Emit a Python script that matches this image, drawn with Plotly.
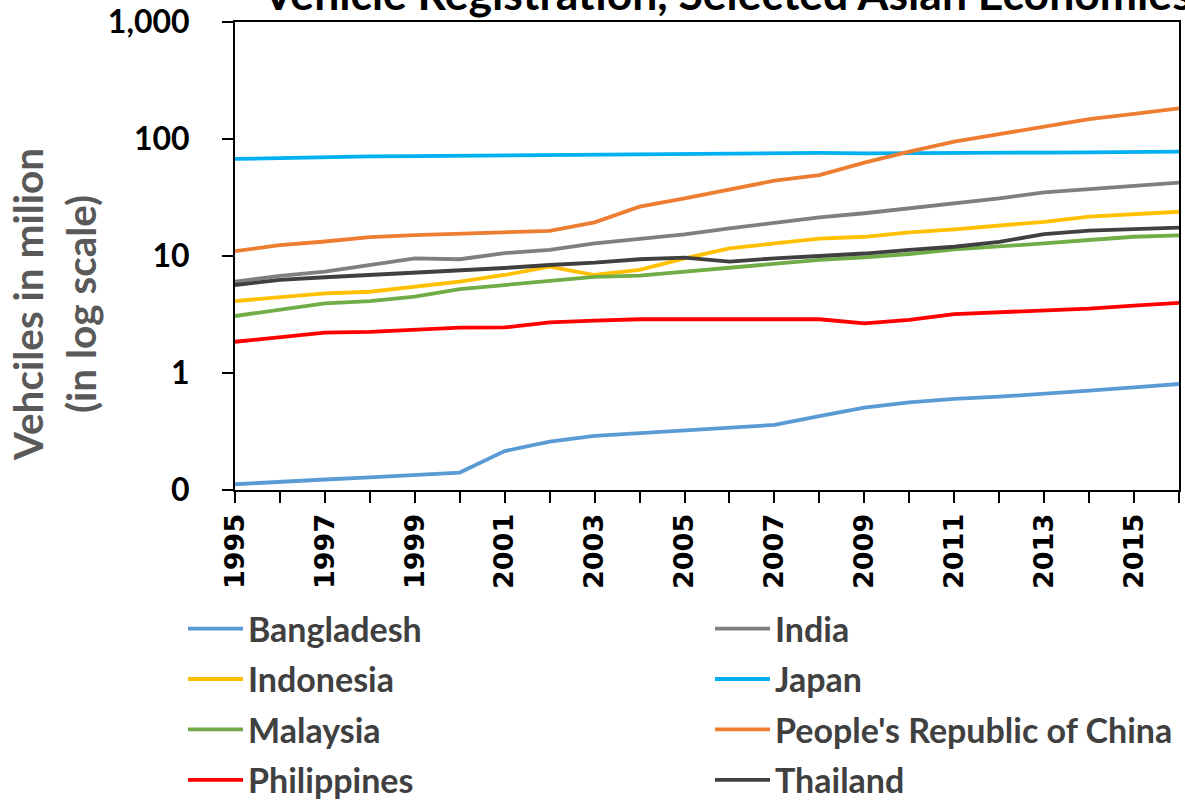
import plotly.graph_objects as go

# Vehicles registered (millions), 1995-2016
years = list(range(1995, 2017))
bangladesh = [0.112, 0.118, 0.123, 0.128, 0.135, 0.141, 0.215, 0.259, 0.290, 0.306, 0.319,
              0.336, 0.360, 0.428, 0.505, 0.562, 0.600, 0.627, 0.662, 0.706, 0.755, 0.805]
india = [6.03, 6.75, 7.34, 8.38, 9.55, 9.38, 10.6, 11.3, 12.8, 14.0, 15.3,
         17.2, 19.3, 21.4, 23.2, 25.6, 28.2, 31.1, 35.0, 37.1, 39.9, 42.3]
indonesia = [4.12, 4.43, 4.80, 4.95, 5.47, 6.03, 6.88, 8.1, 6.88, 7.6, 9.55,
             11.6, 12.8, 14.1, 14.6, 15.9, 16.9, 18.2, 19.6, 21.7, 22.7, 23.9]
japan = [67.5, 69.0, 70.0, 71.0, 71.5, 72.0, 73.0, 73.5, 74.0, 74.5, 75.0,
         75.5, 76.5, 76.0, 75.5, 75.5, 75.5, 76.0, 76.5, 77.0, 77.5, 78.0]
malaysia = [3.07, 3.45, 3.94, 4.12, 4.49, 5.22, 5.65, 6.15, 6.62, 6.79, 7.35,
            8.01, 8.67, 9.26, 9.75, 10.4, 11.4, 12.0, 12.8, 13.7, 14.6, 15.0]
china = [11.0, 12.4, 13.3, 14.5, 15.1, 15.6, 16.0, 16.4, 19.4, 26.4, 31.1,
         36.7, 44.0, 49.2, 62.8, 78.0, 94.8, 110, 128, 148, 164, 183]
philippines = [1.85, 2.04, 2.21, 2.25, 2.33, 2.44, 2.45, 2.71, 2.80, 2.88, 2.88,
               2.88, 2.84, 2.88, 2.66, 2.84, 3.19, 3.30, 3.41, 3.55, 3.76, 3.97]
thailand = [5.65, 6.24, 6.58, 6.88, 7.2, 7.49, 7.9, 8.38, 8.77, 9.38, 9.68,
            8.94, 9.55, 10.0, 10.5, 11.3, 12.0, 13.2, 15.4, 16.5, 17.0, 17.5]

y_tickvals = [0.1, 1, 10, 100, 1000]
y_ticktext = ["0", "1", "10", "100", "1,000"]

series = [
    ("Bangladesh", bangladesh, "#5B9BD5", "legend"),
    ("India", india, "#7F7F7F", "legend2"),
    ("Indonesia", indonesia, "#FFC000", "legend"),
    ("Japan", japan, "#00B0F0", "legend2"),
    ("Malaysia", malaysia, "#70AD47", "legend"),
    ("People's Republic of China", china, "#ED7D31", "legend2"),
    ("Philippines", philippines, "#FF0000", "legend"),
    ("Thailand", thailand, "#404040", "legend2"),
]

W, H = 1185, 802
L, R, T, B = 235, 6, 22, 312
PW, PH = W - L - R, H - T - B


def px_x(px):
    return (px - L) / PW


def px_y(py):
    return (H - B - py) / PH


fig = go.Figure()
for name, vals, color, leg in series:
    fig.add_trace(go.Scatter(
        x=years, y=vals, name=name, mode="lines",
        line=dict(color=color, width=3.8),
        legend=leg, legendgroup=name,
    ))

legend_font = dict(family="Lato", size=34, color="#404040", weight="bold")
legend_common = dict(
    orientation="v", xanchor="left", yanchor="top",
    font=legend_font, itemwidth=55, tracegroupgap=3.2,
    bgcolor="rgba(0,0,0,0)", itemclick=False, itemdoubleclick=False,
)

fig.update_layout(
    width=W, height=H,
    margin=dict(l=L, r=R, t=T, b=B, pad=0, autoexpand=False),
    paper_bgcolor="white", plot_bgcolor="white",
    showlegend=True,
    legend=dict(x=px_x(183), y=px_y(600), **legend_common),
    legend2=dict(x=px_x(710), y=px_y(600), **legend_common),
    xaxis=dict(
        range=[1995, 2016],
        tickvals=years,
        ticktext=[str(y) if (y - 1995) % 2 == 0 else "" for y in years],
        tickangle=-90,
        ticks="outside", ticklen=11, tickwidth=2, tickcolor="black",
        showline=True, linewidth=2, linecolor="black", mirror=True,
        showgrid=False, zeroline=False,
        tickfont=dict(family="DejaVu Sans", size=27, color="black", weight="bold"),
    ),
    yaxis=dict(
        type="log", range=[-1, 3],
        tickvals=y_tickvals, ticktext=y_ticktext,
        ticks="outside", ticklen=11, tickwidth=2, tickcolor="black",
        showline=True, linewidth=2, linecolor="black", mirror=True,
        showgrid=False, zeroline=False, ticklabelstandoff=26,
        tickfont=dict(family="Lato", size=32, color="black", weight="bold"),
    ),
    annotations=[
        dict(
            text="Vehicle Registration, Selected Asian Economies",
            xref="paper", yref="paper", x=px_x(727), y=px_y(21),
            xanchor="center", yanchor="bottom", showarrow=False,
            font=dict(family="Lato", size=44.5, color="black", weight="bold"),
        ),
        dict(
            text="Vehciles in milion<br>(in log scale)",
            xref="paper", yref="paper", x=px_x(54), y=px_y(305),
            xanchor="center", yanchor="middle", showarrow=False, textangle=-90,
            font=dict(family="Lato", size=40.5, color="#595959", weight="bold"),
        ),
    ],
)

fig.write_html("out.html")
